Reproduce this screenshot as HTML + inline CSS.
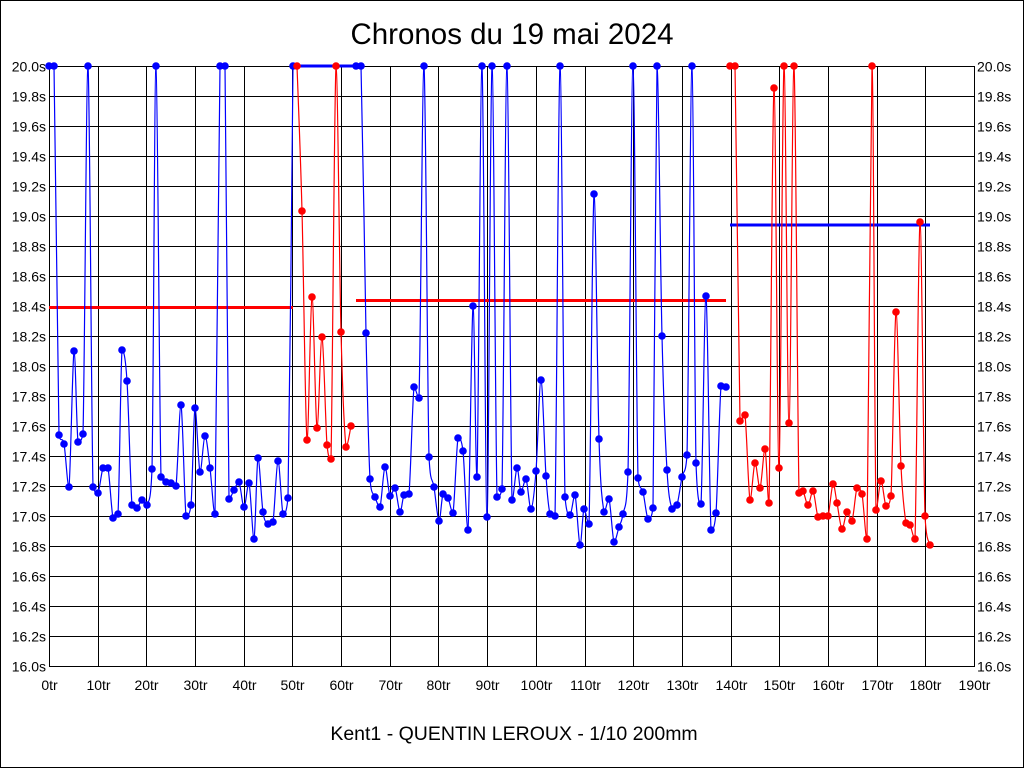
<!DOCTYPE html>
<html><head><meta charset="utf-8"><style>
html,body{margin:0;padding:0;background:#fff;}
svg{display:block;}
text{font-family:"Liberation Sans",sans-serif;fill:#000;}
</style></head><body>
<svg id="s" width="1024" height="768" xmlns="http://www.w3.org/2000/svg">
<rect x="0.5" y="0.5" width="1023" height="767" fill="#fff" stroke="#000"/>
<text x="512" y="44" font-size="29.5" text-anchor="middle">Chronos du 19 mai 2024</text>
<text x="514" y="740" font-size="19.5" text-anchor="middle">Kent1 - QUENTIN LEROUX - 1/10 200mm</text>
<g id="grid"></g>
<g id="data"></g>
</svg>
<script>
var NS="http://www.w3.org/2000/svg";
function el(t,a,p,txt){var e=document.createElementNS(NS,t);for(var k in a)e.setAttribute(k,a[k]);if(txt!=null)e.textContent=txt;p.appendChild(e);return e;}
var g=document.getElementById('grid'),d=document.getElementById('data');
var L=49,R=974,T=66,B=666;
for(var k=0;k<=19;k++){var x=Math.round(L+(R-L)*k/19)+0.5;
 el('line',{x1:x,y1:T,x2:x,y2:B,stroke:'#000','stroke-width':1},g);
 el('text',{x:x,y:690,'font-size':14,'text-anchor':'middle'},g,(k*10)+'tr');}
for(var k=0;k<=20;k++){var y=T+30*k+0.5;
 el('line',{x1:L,y1:y,x2:R,y2:y,stroke:'#000','stroke-width':1},g);
 var v=(20-0.2*k).toFixed(1)+'s';
 el('text',{x:46,y:y+5,'font-size':14,'text-anchor':'end'},g,v);
 el('text',{x:977,y:y+5,'font-size':14},g,v);}
el('rect',{x:L+0.5,y:T+0.5,width:R-L,height:B-T,fill:'none',stroke:'#000'},g);
var b1=[[49,66],[54,66],[59,435],[64,444],[69,487],[74,351],[78,442],[83,434],[88,66],[93,487],[98,493],[103,468],[108,468],[113,518],[118,514],[122,350],[127,381],[132,505],[137,508],[142,500],[147,505],[152,469],[156,66],[161,477],[166,482],[171,483],[176,486],[181,405],[186,516],[191,505],[195,408],[200,472],[205,436],[210,468],[215,514],[220,66],[225,66],[229,499],[234,490],[239,482],[244,507],[249,483],[254,539],[258,458],[263,512],[268,524],[273,522],[278,461],[283,514],[288,498],[293,66]];
var r1=[[297,66],[302,211],[307,440],[312,297],[317,428],[322,337],[327,445],[331,459],[336,66],[341,332],[346,447],[351,426]];
var b2=[[356,66],[361,66],[366,333],[370,479],[375,497],[380,507],[385,467],[390,496],[395,488],[400,512],[404,495],[409,494],[414,387],[419,398],[424,66],[429,457],[434,487],[439,521],[443,494],[448,498],[453,513],[458,438],[463,451],[468,530],[473,306],[477,477],[482,66],[487,517],[492,66],[497,497],[502,489],[507,66],[512,500],[517,468],[521,492],[526,479],[531,509],[536,471],[541,380],[546,476],[550,514],[555,516],[560,66],[565,497],[570,515],[575,495],[580,545],[584,509],[589,524],[594,194],[599,439],[604,512],[609,499],[614,542],[619,527],[623,514],[628,472],[633,66],[638,478],[643,492],[648,519],[653,508],[657,66],[662,336],[667,470],[672,509],[677,505],[682,477],[687,455],[692,66],[696,463],[701,504],[706,296],[711,530],[716,513],[721,386],[726,387]];
var r2=[[730,66],[735,66],[740,421],[745,415],[750,500],[755,463],[760,488],[765,449],[769,503],[774,88],[779,468],[784,66],[789,423],[794,66],[799,493],[803,491],[808,505],[813,491],[818,517],[823,516],[828,516],[833,484],[837,503],[842,529],[847,512],[852,521],[857,488],[862,494],[867,539],[872,66],[876,510],[881,481],[886,506],[891,496],[896,312],[901,466],[906,523],[910,525],[915,539],[920,222],[925,516],[930,545]];
function cl(v,a,b){var lo=Math.min(a,b),hi=Math.max(a,b);return Math.max(lo,Math.min(hi,v));}
function curve(p){var s='M'+p[0][0]+','+p[0][1];for(var i=0;i<p.length-1;i++){var p0=p[i-1]||p[i],p1=p[i],p2=p[i+1],p3=p[i+2]||p2;
 var c1x=p1[0]+(p2[0]-p0[0])/6,c1y=p1[1]+(p2[1]-p0[1])/6,c2x=p2[0]-(p3[0]-p1[0])/6,c2y=p2[1]-(p3[1]-p1[1])/6;
 c1y=cl(c1y,p1[1],p2[1]);c2y=cl(c2y,p1[1],p2[1]);
 s+=' C'+c1x+','+c1y+' '+c2x+','+c2y+' '+p2[0]+','+p2[1];}return s;}
function series(p,c){el('path',{d:curve(p),fill:'none',stroke:c,'stroke-width':1.2},d);
 p.forEach(function(q){el('circle',{cx:q[0],cy:q[1],r:3.8,fill:c},d);});}
el('line',{x1:49,y1:307.5,x2:293,y2:307.5,stroke:'#f00','stroke-width':3},d);
el('line',{x1:293,y1:66,x2:356,y2:66,stroke:'#00f','stroke-width':3},d);
el('line',{x1:356,y1:300.5,x2:726,y2:300.5,stroke:'#f00','stroke-width':3},d);
el('line',{x1:730,y1:225,x2:930,y2:225,stroke:'#00f','stroke-width':3},d);
series(b1,'#00f');series(r1,'#f00');series(b2,'#00f');series(r2,'#f00');
</script>
</body></html>
